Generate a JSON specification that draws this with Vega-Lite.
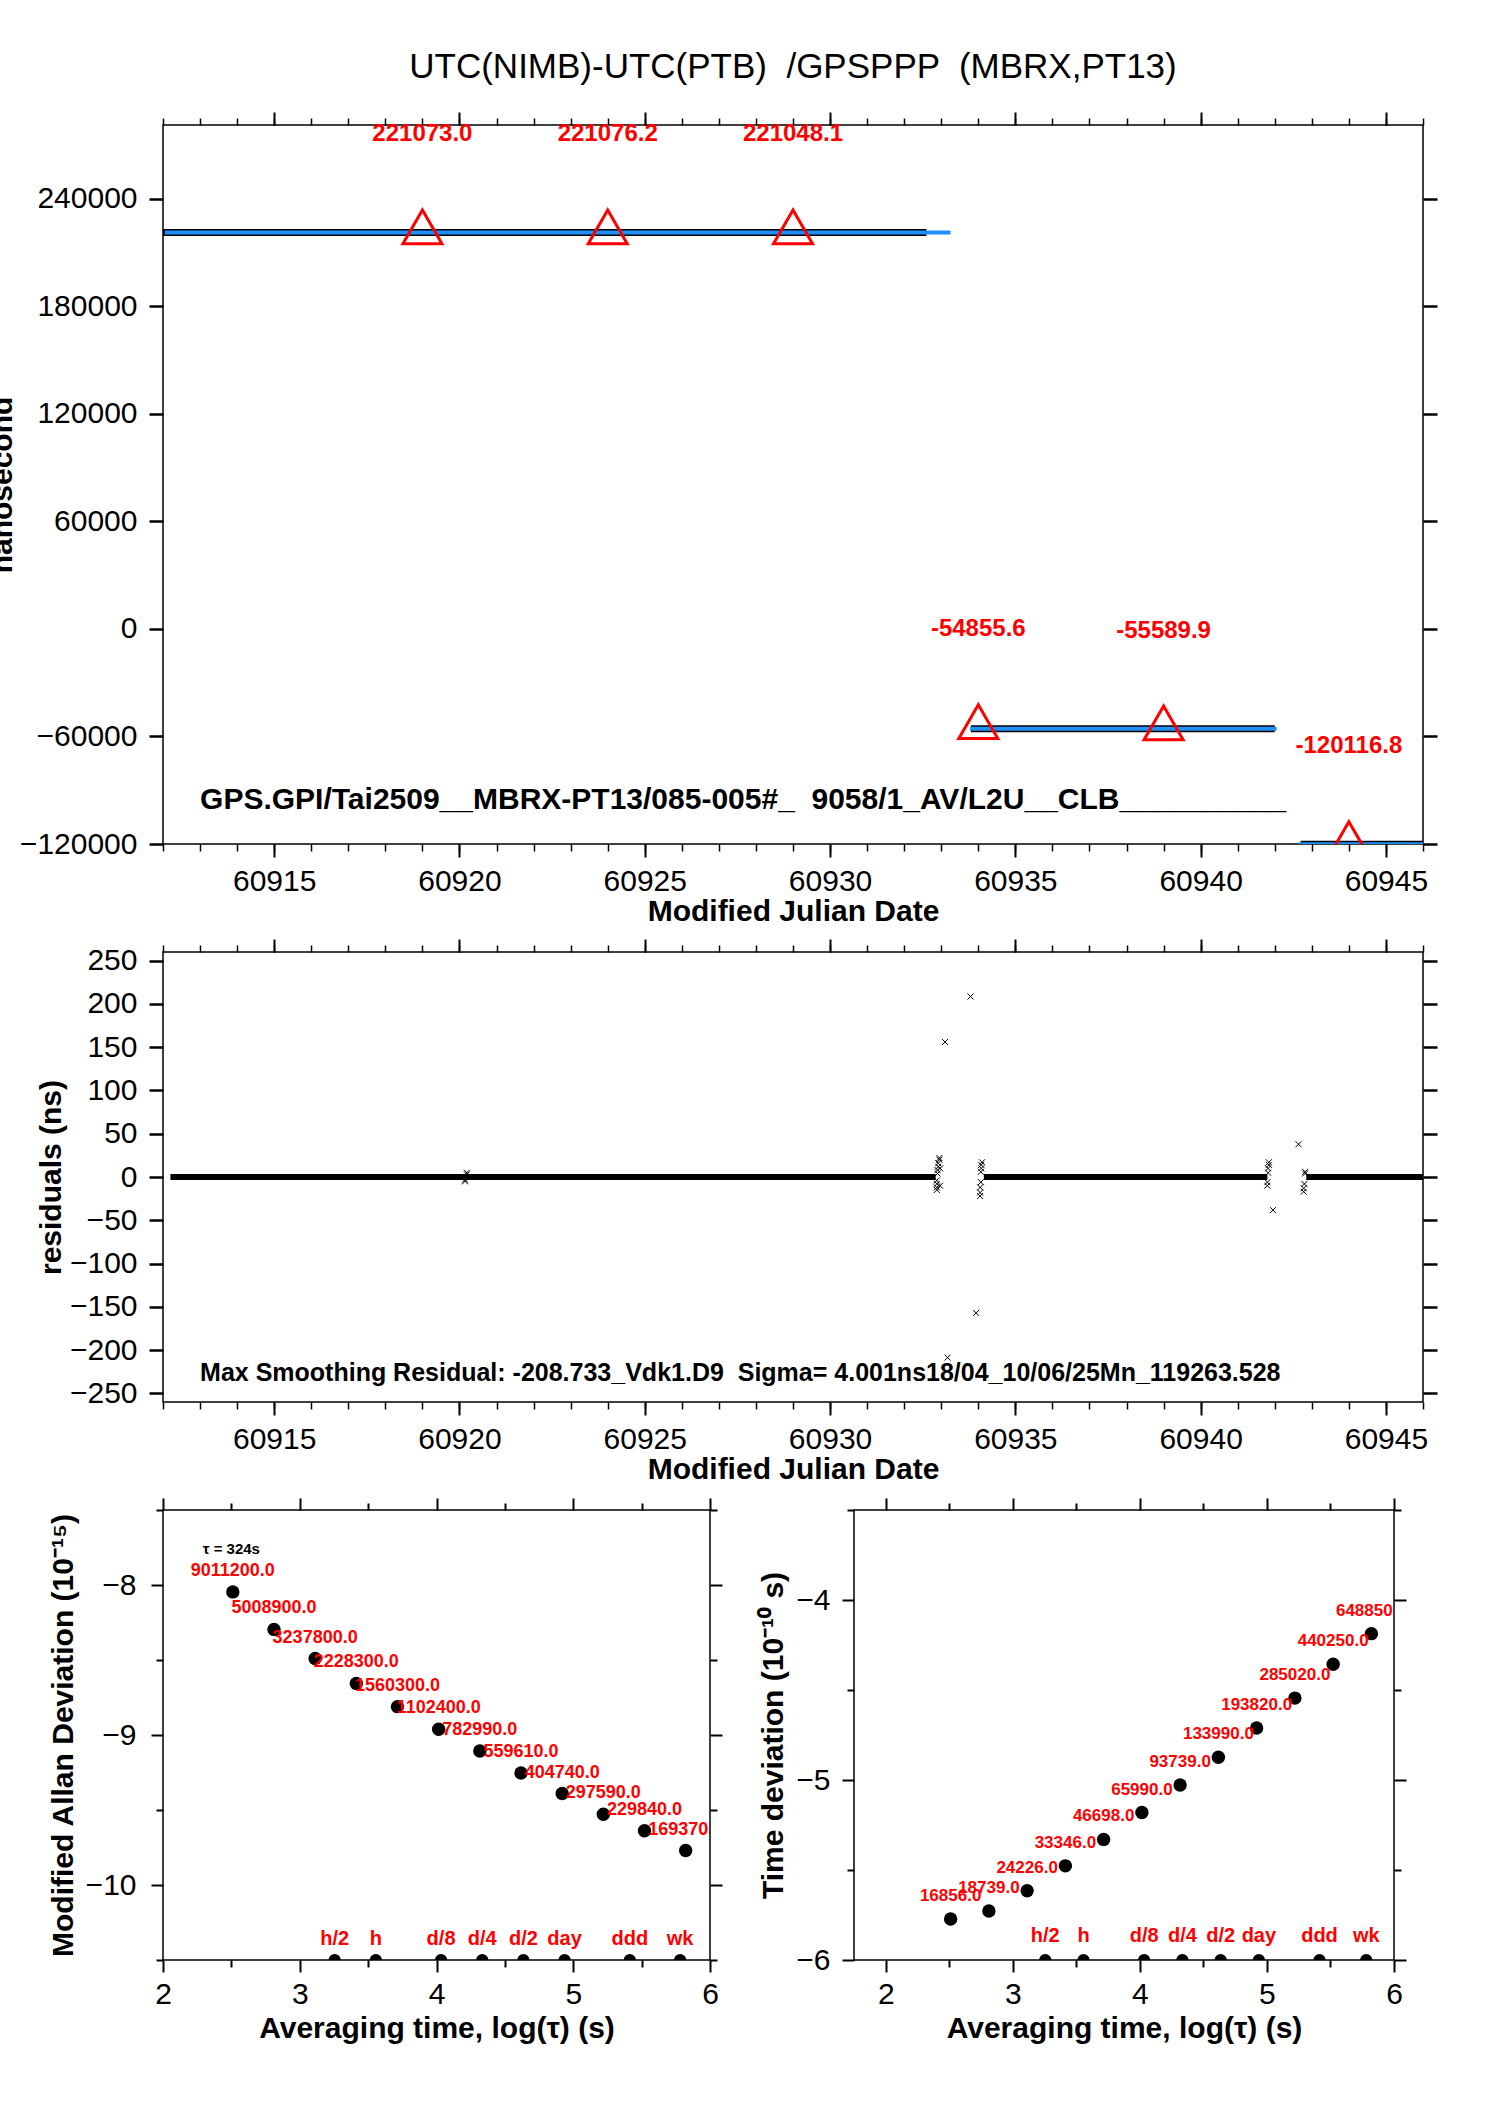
{
  "$schema": "https://vega.github.io/schema/vega-lite/v6.json",
  "background": "white",
  "autosize": {"type": "pad"},
  "padding": {"left": -14, "top": 49, "right": 10, "bottom": 10},
  "bounds": "flush",
  "spacing": 108,
  "config": {
    "font": "Liberation Sans",
    "view": {"stroke": "black", "strokeWidth": 1.5},
    "text": {"font": "Liberation Sans"},
    "axis": {"domain": false, "grid": false, "tickColor": "black", "labelColor": "black", "titleColor": "black", "labelFont": "Liberation Sans", "titleFont": "Liberation Sans", "labelFontSize": 30, "titleFontSize": 30, "titleFontWeight": "bold", "labelFlush": false, "labelOverlap": false},
    "title": {"font": "Liberation Sans", "fontWeight": "normal", "fontSize": 35, "color": "black", "anchor": "middle", "offset": 26}
  },
  "datasets": {
    "blackseg": [
      {"seg": 1, "mjd": 60912.0, "ns": 221000},
      {"seg": 1, "mjd": 60932.6, "ns": 221000},
      {"seg": 2, "mjd": 60933.8, "ns": -55700},
      {"seg": 2, "mjd": 60942.0, "ns": -55700},
      {"seg": 3, "mjd": 60942.7, "ns": -120100},
      {"seg": 3, "mjd": 60946.0, "ns": -120100}
    ],
    "blueseg": [
      {"seg": 1, "mjd": 60912.05, "ns": 221000},
      {"seg": 1, "mjd": 60933.25, "ns": 221000},
      {"seg": 2, "mjd": 60933.78, "ns": -55700},
      {"seg": 2, "mjd": 60942.05, "ns": -55700},
      {"seg": 3, "mjd": 60942.65, "ns": -120100},
      {"seg": 3, "mjd": 60946.0, "ns": -120100}
    ],
    "tri": [
      {"mjd": 60919, "val": 221073.0, "lab": "221073.0"},
      {"mjd": 60924, "val": 221076.2, "lab": "221076.2"},
      {"mjd": 60929, "val": 221048.1, "lab": "221048.1"},
      {"mjd": 60934, "val": -54855.6, "lab": "-54855.6"},
      {"mjd": 60939, "val": -55589.9, "lab": "-55589.9"},
      {"mjd": 60944, "val": -120116.8, "lab": "-120116.8"}
    ],
    "note1": [
      {"mjd": 60913.0, "ns": -95500, "txt": "GPS.GPI/Tai2509__MBRX-PT13/085-005#_\u00a0 9058/1_AV/L2U__CLB__________"}
    ],
    "band": [
      {"x1": 60912.2, "x2": 60932.85},
      {"x1": 60934.15, "x2": 60941.8},
      {"x1": 60942.85, "x2": 60946.0}
    ],
    "outliers": [
      {"mjd": 60933.10, "r": 156.0},
      {"mjd": 60933.79, "r": 208.6},
      {"mjd": 60933.94, "r": -157.0},
      {"mjd": 60933.17, "r": -208.7},
      {"mjd": 60942.64, "r": 37.9},
      {"mjd": 60941.95, "r": -38.3}
    ],
    "clusters": [
      {"mjd": 60920.15, "r": -5}, {"mjd": 60920.15, "r": -3}, {"mjd": 60920.2, "r": 3}, {"mjd": 60920.2, "r": 5},
      {"mjd": 60932.88, "r": -15}, {"mjd": 60932.88, "r": -12}, {"mjd": 60932.88, "r": -8}, {"mjd": 60932.88, "r": -4},
      {"mjd": 60932.9, "r": 4}, {"mjd": 60932.9, "r": 8}, {"mjd": 60932.92, "r": 12}, {"mjd": 60932.92, "r": 16},
      {"mjd": 60932.95, "r": 20}, {"mjd": 60932.95, "r": 22}, {"mjd": 60932.97, "r": -10}, {"mjd": 60932.97, "r": 10},
      {"mjd": 60934.05, "r": -22}, {"mjd": 60934.05, "r": -18}, {"mjd": 60934.05, "r": -12}, {"mjd": 60934.07, "r": -6},
      {"mjd": 60934.07, "r": 6}, {"mjd": 60934.08, "r": 10}, {"mjd": 60934.08, "r": 14}, {"mjd": 60934.1, "r": 17},
      {"mjd": 60941.8, "r": -10}, {"mjd": 60941.8, "r": -6}, {"mjd": 60941.82, "r": 5}, {"mjd": 60941.82, "r": 10},
      {"mjd": 60941.84, "r": 14}, {"mjd": 60941.84, "r": 17},
      {"mjd": 60942.78, "r": -17}, {"mjd": 60942.78, "r": -13}, {"mjd": 60942.8, "r": -8}, {"mjd": 60942.82, "r": 4}, {"mjd": 60942.82, "r": 6}
    ],
    "note2": [
      {"mjd": 60913.0, "r": -226, "txt": "Max Smoothing Residual: -208.733_Vdk1.D9\u00a0 Sigma= 4.001ns18/04_10/06/25Mn_119263.528"}
    ],
    "mdev": [
      {"lt": 2.5105, "v": -8.046, "lab": "9011200.0"},
      {"lt": 2.8116, "v": -8.296, "lab": "5008900.0"},
      {"lt": 3.1126, "v": -8.490, "lab": "3237800.0"},
      {"lt": 3.4137, "v": -8.656, "lab": "2228300.0"},
      {"lt": 3.7147, "v": -8.811, "lab": "1560300.0"},
      {"lt": 4.0158, "v": -8.962, "lab": "1102400.0"},
      {"lt": 4.3168, "v": -9.107, "lab": "782990.0"},
      {"lt": 4.6179, "v": -9.253, "lab": "559610.0"},
      {"lt": 4.9189, "v": -9.390, "lab": "404740.0"},
      {"lt": 5.2200, "v": -9.528, "lab": "297590.0"},
      {"lt": 5.5210, "v": -9.638, "lab": "229840.0"},
      {"lt": 5.8221, "v": -9.770, "lab": "169370.0"}
    ],
    "tdev": [
      {"lt": 2.5105, "v": -5.772, "lab": "16856.0"},
      {"lt": 2.8116, "v": -5.728, "lab": "18739.0"},
      {"lt": 3.1126, "v": -5.615, "lab": "24226.0"},
      {"lt": 3.4137, "v": -5.477, "lab": "33346.0"},
      {"lt": 3.7147, "v": -5.330, "lab": "46698.0"},
      {"lt": 4.0158, "v": -5.181, "lab": "65990.0"},
      {"lt": 4.3168, "v": -5.028, "lab": "93739.0"},
      {"lt": 4.6179, "v": -4.874, "lab": "133990.0"},
      {"lt": 4.9189, "v": -4.711, "lab": "193820.0"},
      {"lt": 5.2200, "v": -4.545, "lab": "285020.0"},
      {"lt": 5.5210, "v": -4.357, "lab": "440250.0"},
      {"lt": 5.8221, "v": -4.187, "lab": "648850.0"}
    ],
    "spans": [
      {"lt": 3.2553, "lab": "h/2"},
      {"lt": 3.5563, "lab": "h"},
      {"lt": 4.0334, "lab": "d/8"},
      {"lt": 4.3345, "lab": "d/4"},
      {"lt": 4.6355, "lab": "d/2"},
      {"lt": 4.9365, "lab": "day"},
      {"lt": 5.4136, "lab": "ddd"},
      {"lt": 5.7816, "lab": "wk"}
    ],
    "tau": [{"lt": 2.50, "v": -7.757, "txt": "τ = 324s"}]
  },
  "vconcat": [
    {
      "width": 1260,
      "height": 719,
      "title": {"text": "UTC(NIMB)-UTC(PTB) \u00a0/GPSPPP \u00a0(MBRX,PT13)"},
      "resolve": {"axis": {"x": "independent", "y": "independent"}},
      "layer": [
        {
          "data": {"name": "blackseg"},
          "mark": {"type": "line", "color": "black", "strokeWidth": 7, "clip": true},
          "encoding": {
            "x": {"field": "mjd", "type": "quantitative", "scale": {"domain": [60912, 60946], "nice": false, "zero": false},
                  "axis": {"orient": "bottom", "values": [60915, 60920, 60925, 60930, 60935, 60940, 60945], "format": "d", "tickSize": 13, "tickWidth": 2, "labelPadding": 9, "title": "Modified Julian Date", "titlePadding": 0}},
            "y": {"field": "ns", "type": "quantitative", "scale": {"domain": [-120000, 281000], "nice": false, "zero": false},
                  "axis": {"orient": "left", "values": [-120000, -60000, 0, 60000, 120000, 180000, 240000], "format": "d", "tickSize": 14, "tickWidth": 2.5, "labelPadding": 12, "title": "nanosecond", "titlePadding": 2}},
            "detail": {"field": "seg"}
          }
        },
        {
          "data": {"name": "blueseg"},
          "mark": {"type": "line", "color": "#1e90ff", "strokeWidth": 4, "clip": true},
          "encoding": {
            "x": {"field": "mjd", "type": "quantitative", "scale": {"domain": [60912, 60946], "nice": false, "zero": false},
                  "axis": {"orient": "bottom", "values": [60912,60913,60914,60915,60916,60917,60918,60919,60920,60921,60922,60923,60924,60925,60926,60927,60928,60929,60930,60931,60932,60933,60934,60935,60936,60937,60938,60939,60940,60941,60942,60943,60944,60945,60946], "labels": false, "tickSize": 7, "tickWidth": 1.5, "title": null}},
            "y": {"field": "ns", "type": "quantitative", "scale": {"domain": [-120000, 281000], "nice": false, "zero": false},
                  "axis": {"orient": "right", "values": [-120000, -60000, 0, 60000, 120000, 180000, 240000], "labels": false, "tickSize": 14, "tickWidth": 2.5, "title": null}},
            "detail": {"field": "seg"}
          }
        },
        {
          "data": {"name": "tri"},
          "mark": {"type": "point", "shape": "M0,-1.155L1,0.577L-1,0.577Z", "size": 1521, "filled": false, "stroke": "#ff0000", "strokeWidth": 3, "opacity": 1, "clip": true},
          "encoding": {
            "x": {"field": "mjd", "type": "quantitative", "scale": {"domain": [60912, 60946], "nice": false, "zero": false},
                  "axis": {"orient": "top", "values": [60915, 60920, 60925, 60930, 60935, 60940, 60945], "labels": false, "tickSize": 13, "tickWidth": 2, "title": null}},
            "y": {"field": "val", "type": "quantitative", "scale": {"domain": [-120000, 281000], "nice": false, "zero": false}, "axis": null}
          }
        },
        {
          "data": {"name": "tri"},
          "mark": {"type": "text", "color": "#ff0000", "fontWeight": "bold", "fontSize": 24, "dy": -98, "baseline": "middle", "align": "center"},
          "encoding": {
            "x": {"field": "mjd", "type": "quantitative", "scale": {"domain": [60912, 60946], "nice": false, "zero": false},
                  "axis": {"orient": "top", "values": [60912,60913,60914,60915,60916,60917,60918,60919,60920,60921,60922,60923,60924,60925,60926,60927,60928,60929,60930,60931,60932,60933,60934,60935,60936,60937,60938,60939,60940,60941,60942,60943,60944,60945,60946], "labels": false, "tickSize": 7, "tickWidth": 1.5, "title": null}},
            "y": {"field": "val", "type": "quantitative", "scale": {"domain": [-120000, 281000], "nice": false, "zero": false}, "axis": null},
            "text": {"field": "lab"}
          }
        },
        {
          "data": {"name": "note1"},
          "mark": {"type": "text", "align": "left", "baseline": "middle", "fontWeight": "bold", "fontSize": 30, "color": "black"},
          "encoding": {
            "x": {"field": "mjd", "type": "quantitative", "scale": {"domain": [60912, 60946], "nice": false, "zero": false}, "axis": null},
            "y": {"field": "ns", "type": "quantitative", "scale": {"domain": [-120000, 281000], "nice": false, "zero": false}, "axis": null},
            "text": {"field": "txt"}
          }
        }
      ]
    },
    {
      "width": 1260,
      "height": 450,
      "resolve": {"axis": {"x": "independent", "y": "independent"}},
      "layer": [
        {
          "data": {"name": "band"},
          "mark": {"type": "rule", "color": "black", "strokeWidth": 6},
          "encoding": {
            "x": {"field": "x1", "type": "quantitative", "scale": {"domain": [60912, 60946], "nice": false, "zero": false},
                  "axis": {"orient": "bottom", "values": [60915, 60920, 60925, 60930, 60935, 60940, 60945], "format": "d", "tickSize": 13, "tickWidth": 2, "labelPadding": 9, "title": "Modified Julian Date", "titlePadding": 0}},
            "x2": {"field": "x2"},
            "y": {"datum": 0, "type": "quantitative", "scale": {"domain": [-260, 260], "nice": false, "zero": false},
                  "axis": {"orient": "left", "values": [-250, -200, -150, -100, -50, 0, 50, 100, 150, 200, 250], "format": "d", "tickSize": 14, "tickWidth": 2.5, "labelPadding": 12, "title": "residuals (ns)", "titlePadding": 3}}
          }
        },
        {
          "data": {"name": "outliers"},
          "mark": {"type": "point", "shape": "M-1,-1L1,1M-1,1L1,-1", "size": 36, "filled": false, "stroke": "black", "strokeWidth": 1, "opacity": 1, "clip": true},
          "encoding": {
            "x": {"field": "mjd", "type": "quantitative", "scale": {"domain": [60912, 60946], "nice": false, "zero": false},
                  "axis": {"orient": "bottom", "values": [60912,60913,60914,60915,60916,60917,60918,60919,60920,60921,60922,60923,60924,60925,60926,60927,60928,60929,60930,60931,60932,60933,60934,60935,60936,60937,60938,60939,60940,60941,60942,60943,60944,60945,60946], "labels": false, "tickSize": 7, "tickWidth": 1.5, "title": null}},
            "y": {"field": "r", "type": "quantitative", "scale": {"domain": [-260, 260], "nice": false, "zero": false},
                  "axis": {"orient": "right", "values": [-250, -200, -150, -100, -50, 0, 50, 100, 150, 200, 250], "labels": false, "tickSize": 14, "tickWidth": 2.5, "title": null}}
          }
        },
        {
          "data": {"name": "clusters"},
          "mark": {"type": "point", "shape": "M-1,-1L1,1M-1,1L1,-1", "size": 36, "filled": false, "stroke": "black", "strokeWidth": 1, "opacity": 1, "clip": true},
          "encoding": {
            "x": {"field": "mjd", "type": "quantitative", "scale": {"domain": [60912, 60946], "nice": false, "zero": false},
                  "axis": {"orient": "top", "values": [60915, 60920, 60925, 60930, 60935, 60940, 60945], "labels": false, "tickSize": 13, "tickWidth": 2, "title": null}},
            "y": {"field": "r", "type": "quantitative", "scale": {"domain": [-260, 260], "nice": false, "zero": false}, "axis": null}
          }
        },
        {
          "data": {"name": "note2"},
          "mark": {"type": "text", "align": "left", "baseline": "middle", "fontWeight": "bold", "fontSize": 25, "color": "black"},
          "encoding": {
            "x": {"field": "mjd", "type": "quantitative", "scale": {"domain": [60912, 60946], "nice": false, "zero": false},
                  "axis": {"orient": "top", "values": [60912,60913,60914,60915,60916,60917,60918,60919,60920,60921,60922,60923,60924,60925,60926,60927,60928,60929,60930,60931,60932,60933,60934,60935,60936,60937,60938,60939,60940,60941,60942,60943,60944,60945,60946], "labels": false, "tickSize": 7, "tickWidth": 1.5, "title": null}},
            "y": {"field": "r", "type": "quantitative", "scale": {"domain": [-260, 260], "nice": false, "zero": false}, "axis": null},
            "text": {"field": "txt"}
          }
        }
      ]
    },
    {
      "bounds": "flush",
      "spacing": 144,
      "hconcat": [
        {
          "width": 547,
          "height": 450,
          "resolve": {"axis": {"x": "independent", "y": "independent"}},
          "layer": [
            {
              "data": {"name": "mdev"},
              "mark": {"type": "circle", "size": 180, "color": "black", "opacity": 1, "clip": true},
              "encoding": {
                "x": {"field": "lt", "type": "quantitative", "scale": {"domain": [2, 6], "nice": false, "zero": false},
                      "axis": {"orient": "bottom", "values": [2, 3, 4, 5, 6], "format": "d", "tickSize": 12, "tickWidth": 2, "labelPadding": 7, "title": "Averaging time, log(τ) (s)", "titlePadding": 4}},
                "y": {"field": "v", "type": "quantitative", "scale": {"domain": [-10.5, -7.5], "nice": false, "zero": false},
                      "axis": {"orient": "left", "values": [-10, -9, -8], "format": "d", "tickSize": 12, "tickWidth": 2, "labelPadding": 15, "title": "Modified Allan Deviation (10⁻¹⁵)", "titlePadding": 7}}
              }
            },
            {
              "data": {"name": "mdev"},
              "mark": {"type": "text", "color": "#ff0000", "fontWeight": "bold", "fontSize": 18, "dy": -21, "baseline": "middle", "align": "center", "clip": true},
              "encoding": {
                "x": {"field": "lt", "type": "quantitative", "scale": {"domain": [2, 6], "nice": false, "zero": false},
                      "axis": {"orient": "bottom", "values": [2.5, 3.5, 4.5, 5.5], "labels": false, "tickSize": 7, "tickWidth": 2, "title": null}},
                "y": {"field": "v", "type": "quantitative", "scale": {"domain": [-10.5, -7.5], "nice": false, "zero": false},
                      "axis": {"orient": "left", "values": [-10.5, -9.5, -8.5, -7.5], "labels": false, "tickSize": 7, "tickWidth": 2, "title": null}},
                "text": {"field": "lab"}
              }
            },
            {
              "data": {"name": "spans"},
              "mark": {"type": "circle", "size": 150, "color": "black", "opacity": 1, "clip": true},
              "encoding": {
                "x": {"field": "lt", "type": "quantitative", "scale": {"domain": [2, 6], "nice": false, "zero": false},
                      "axis": {"orient": "top", "values": [2, 3, 4, 5, 6], "labels": false, "tickSize": 12, "tickWidth": 2, "title": null}},
                "y": {"datum": -10.5, "type": "quantitative", "scale": {"domain": [-10.5, -7.5], "nice": false, "zero": false},
                      "axis": {"orient": "right", "values": [-10, -9, -8], "labels": false, "tickSize": 12, "tickWidth": 2, "title": null}}
              }
            },
            {
              "data": {"name": "spans"},
              "mark": {"type": "text", "color": "#ff0000", "fontWeight": "bold", "fontSize": 20, "dy": -21, "baseline": "middle", "align": "center"},
              "encoding": {
                "x": {"field": "lt", "type": "quantitative", "scale": {"domain": [2, 6], "nice": false, "zero": false},
                      "axis": {"orient": "top", "values": [2.5, 3.5, 4.5, 5.5], "labels": false, "tickSize": 7, "tickWidth": 2, "title": null}},
                "y": {"datum": -10.5, "type": "quantitative", "scale": {"domain": [-10.5, -7.5], "nice": false, "zero": false},
                      "axis": {"orient": "right", "values": [-10.5, -9.5, -8.5, -7.5], "labels": false, "tickSize": 7, "tickWidth": 2, "title": null}},
                "text": {"field": "lab"}
              }
            },
            {
              "data": {"name": "tau"},
              "mark": {"type": "text", "color": "black", "fontWeight": "bold", "fontSize": 15, "baseline": "middle", "align": "center"},
              "encoding": {
                "x": {"field": "lt", "type": "quantitative", "scale": {"domain": [2, 6], "nice": false, "zero": false}, "axis": null},
                "y": {"field": "v", "type": "quantitative", "scale": {"domain": [-10.5, -7.5], "nice": false, "zero": false}, "axis": null},
                "text": {"field": "txt"}
              }
            }
          ]
        },
        {
          "width": 540,
          "height": 450,
          "resolve": {"axis": {"x": "independent", "y": "independent"}},
          "layer": [
            {
              "data": {"name": "tdev"},
              "mark": {"type": "circle", "size": 180, "color": "black", "opacity": 1, "clip": true},
              "encoding": {
                "x": {"field": "lt", "type": "quantitative", "scale": {"domain": [1.75, 6], "nice": false, "zero": false},
                      "axis": {"orient": "bottom", "values": [2, 3, 4, 5, 6], "format": "d", "tickSize": 12, "tickWidth": 2, "labelPadding": 7, "title": "Averaging time, log(τ) (s)", "titlePadding": 4}},
                "y": {"field": "v", "type": "quantitative", "scale": {"domain": [-6, -3.5], "nice": false, "zero": false},
                      "axis": {"orient": "left", "values": [-6, -5, -4], "format": "d", "tickSize": 12, "tickWidth": 2, "labelPadding": 12, "title": "Time deviation (10⁻¹⁰ s)", "titlePadding": 7}}
              }
            },
            {
              "data": {"name": "tdev"},
              "mark": {"type": "text", "color": "#ff0000", "fontWeight": "bold", "fontSize": 17, "dy": -23, "baseline": "middle", "align": "center", "clip": true},
              "encoding": {
                "x": {"field": "lt", "type": "quantitative", "scale": {"domain": [1.75, 6], "nice": false, "zero": false},
                      "axis": {"orient": "bottom", "values": [2.5, 3.5, 4.5, 5.5], "labels": false, "tickSize": 7, "tickWidth": 2, "title": null}},
                "y": {"field": "v", "type": "quantitative", "scale": {"domain": [-6, -3.5], "nice": false, "zero": false},
                      "axis": {"orient": "left", "values": [-5.5, -4.5, -3.5], "labels": false, "tickSize": 7, "tickWidth": 2, "title": null}},
                "text": {"field": "lab"}
              }
            },
            {
              "data": {"name": "spans"},
              "mark": {"type": "circle", "size": 150, "color": "black", "opacity": 1, "clip": true},
              "encoding": {
                "x": {"field": "lt", "type": "quantitative", "scale": {"domain": [1.75, 6], "nice": false, "zero": false},
                      "axis": {"orient": "top", "values": [2, 3, 4, 5, 6], "labels": false, "tickSize": 12, "tickWidth": 2, "title": null}},
                "y": {"datum": -6, "type": "quantitative", "scale": {"domain": [-6, -3.5], "nice": false, "zero": false},
                      "axis": {"orient": "right", "values": [-6, -5, -4], "labels": false, "tickSize": 12, "tickWidth": 2, "title": null}}
              }
            },
            {
              "data": {"name": "spans"},
              "mark": {"type": "text", "color": "#ff0000", "fontWeight": "bold", "fontSize": 20, "dy": -24, "baseline": "middle", "align": "center"},
              "encoding": {
                "x": {"field": "lt", "type": "quantitative", "scale": {"domain": [1.75, 6], "nice": false, "zero": false},
                      "axis": {"orient": "top", "values": [2.5, 3.5, 4.5, 5.5], "labels": false, "tickSize": 7, "tickWidth": 2, "title": null}},
                "y": {"datum": -6, "type": "quantitative", "scale": {"domain": [-6, -3.5], "nice": false, "zero": false},
                      "axis": {"orient": "right", "values": [-5.5, -4.5, -3.5], "labels": false, "tickSize": 7, "tickWidth": 2, "title": null}},
                "text": {"field": "lab"}
              }
            }
          ]
        }
      ]
    }
  ]
}
